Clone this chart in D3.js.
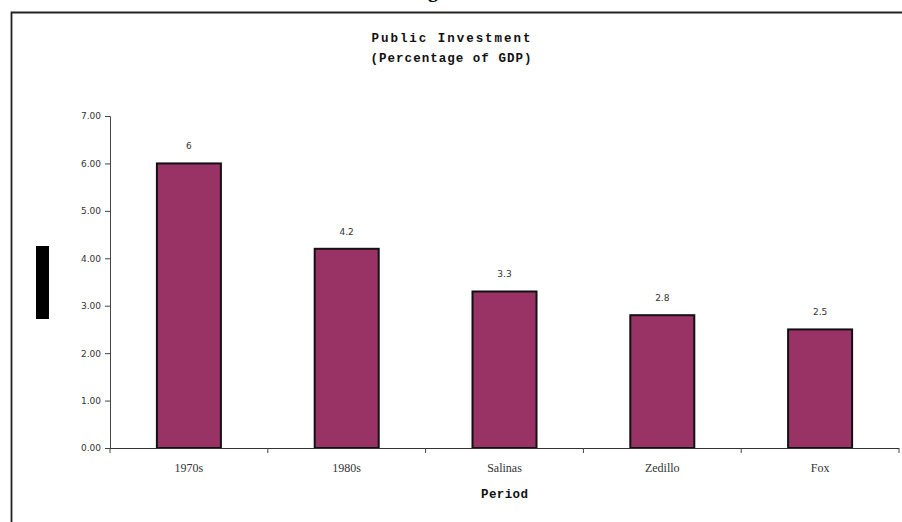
<!DOCTYPE html>
<html>
<head>
<meta charset="utf-8">
<script src="https://cdn.jsdelivr.net/npm/d3@7"></script>
<style>
  body { margin: 0; background: #fff; }
  svg { display: block; }
</style>
</head>
<body>
<svg id="chart" width="902" height="522"></svg>
<script>
const categories = ["1970s", "1980s", "Salinas", "Zedillo", "Fox"];
const values = [6, 4.2, 3.3, 2.8, 2.5];
const yTicks = [0, 1, 2, 3, 4, 5, 6, 7];
const titleLines = ["Public Investment", "(Percentage of GDP)"];
const xTitle = "Period";

const svg = d3.select("#chart");
const W = 902, H = 522;
const m = { left: 110, right: 3, top: 116, bottom: 74 };

svg.append("rect").attr("width", W).attr("height", H).attr("fill", "#fff");

// clipped text above frame (only its descender shows, as in the reference)
svg.append("text").attr("x", 433).attr("y", -3).attr("text-anchor", "middle")
  .attr("font-family", "Liberation Serif").attr("font-weight", "bold").attr("font-size", 20)
  .attr("fill", "#000").text("g");

// frame
svg.append("path").attr("d", `M11.5,${H} V12.5 H${W}`)
  .attr("fill", "none").attr("stroke", "#222").attr("stroke-width", 1.8);

const x = d3.scaleBand().domain(categories).range([m.left, W - m.right]).paddingInner(0).paddingOuter(0);
const y = d3.scaleLinear().domain([0, 7]).range([H - m.bottom, m.top]);

// Title
const tw = [159, 161];
titleLines.forEach((t, i) => {
  svg.append("text").attr("x", 451).attr("y", 42 + i * 20).attr("text-anchor", "middle")
    .attr("font-family", "Liberation Mono, Courier New, monospace").attr("font-weight", "bold")
    .attr("font-size", 12.5).attr("fill", "#111")
    .attr("textLength", tw[i]).attr("lengthAdjust", "spacing").text(t);
});

// bars
const bw = 64;
svg.append("g").selectAll("rect").data(values).join("rect")
  .attr("x", (d, i) => x(categories[i]) + x.bandwidth() / 2 - bw / 2)
  .attr("y", d => y(d))
  .attr("width", bw)
  .attr("height", d => y(0) - y(d))
  .attr("fill", "#993366").attr("stroke", "#111").attr("stroke-width", 2);

// value labels
svg.append("g").selectAll("text").data(values).join("text")
  .attr("x", (d, i) => x(categories[i]) + x.bandwidth() / 2)
  .attr("y", d => y(d) - 14)
  .attr("text-anchor", "middle")
  .attr("font-family", "DejaVu Sans, Verdana, sans-serif").attr("font-size", 9)
  .attr("fill", "#333").text(d => d);

// y axis
const yAxis = svg.append("g").attr("transform", `translate(${m.left},0)`)
  .call(d3.axisLeft(y).tickValues(yTicks).tickFormat(d3.format(".2f")).tickSize(5).tickPadding(4));
yAxis.select(".domain").attr("stroke", "#444");
yAxis.selectAll(".tick line").attr("stroke", "#444");
yAxis.selectAll("text").attr("font-family", "DejaVu Sans, Verdana, sans-serif")
  .attr("font-size", 9).attr("fill", "#333");

// x axis
const bounds = categories.map(c => x(c)).concat([x(categories[categories.length - 1]) + x.bandwidth()]);
const xAxis = svg.append("g").attr("transform", `translate(0,${y(0)})`);
xAxis.append("line").attr("x1", m.left).attr("x2", W - m.right).attr("y1", 0.5).attr("y2", 0.5)
  .attr("stroke", "#333").attr("stroke-width", 1.2);
xAxis.selectAll("line.tk").data(bounds).join("line").attr("class", "tk")
  .attr("x1", d => d).attr("x2", d => d).attr("y1", 0).attr("y2", 5)
  .attr("stroke", "#444");
xAxis.selectAll("text").data(categories).join("text")
  .attr("x", d => x(d) + x.bandwidth() / 2).attr("y", 24)
  .attr("text-anchor", "middle")
  .attr("font-family", "Liberation Serif, Times New Roman, serif").attr("font-size", 12)
  .attr("fill", "#333").text(d => d);

// x title
svg.append("text").attr("x", (m.left + W - m.right) / 2).attr("y", 498).attr("text-anchor", "middle")
  .attr("font-family", "Liberation Mono, Courier New, monospace").attr("font-weight", "bold")
  .attr("font-size", 12.5).attr("fill", "#111")
  .attr("textLength", 47).attr("lengthAdjust", "spacing").text(xTitle);

// y-axis title block (rendered as solid black)
svg.append("rect").attr("x", 36).attr("y", 246).attr("width", 13).attr("height", 73).attr("fill", "#000");
</script>
</body>
</html>
